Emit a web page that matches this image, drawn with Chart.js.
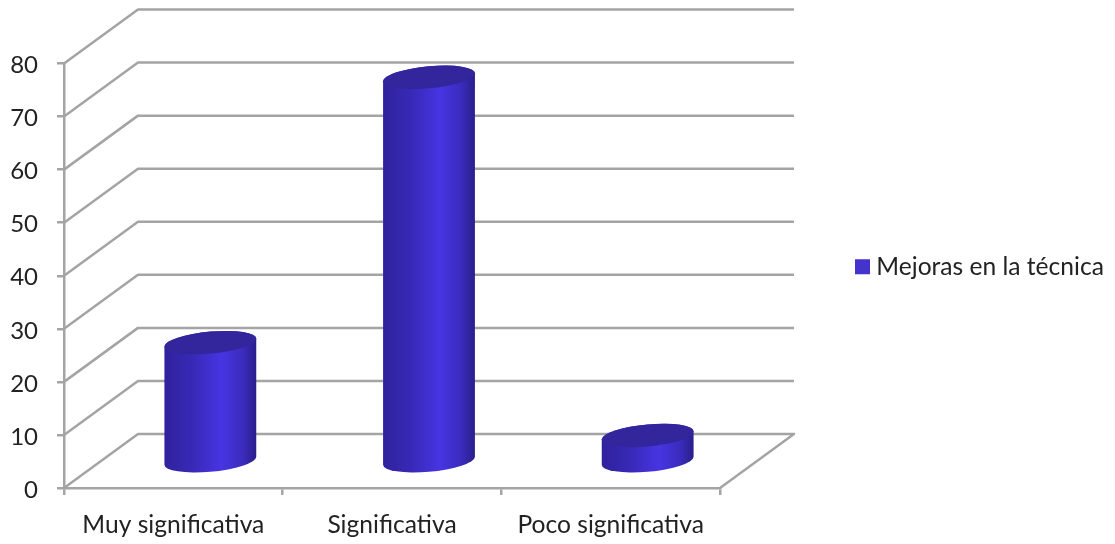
<!DOCTYPE html>
<html lang="es">
<head>
<meta charset="utf-8">
<title>Mejoras en la técnica</title>
<style>
  html, body { margin: 0; padding: 0; background: #ffffff; }
  canvas { display: block; }
</style>
<script src="https://cdn.jsdelivr.net/npm/chart.js@4/dist/chart.umd.min.js"></script>
</head>
<body>
<canvas id="chart" width="1115" height="544"></canvas>
<script>
const categories = ['Muy significativa', 'Significativa', 'Poco significativa'];
const seriesName = 'Mejoras en la técnica';
const seriesValues = [22.5, 72.5, 5];
const yTicks = { min: 0, max: 80, step: 10 };

const FONT = { family: 'Lato, Carlito, sans-serif', size: 24.6 };
const VALUE_FONT = { family: 'Lato, Carlito, sans-serif', size: 24 };
const TEXT = '#222222';
const GRID = '#a4a4a4';
const GRID_WIDTH = 2.5;
const PLOT = { left: 64, right: 720, top: 63.5, bottom: 488 };
const WALL = { dx: 74, dy: -54 };   // depth of the box behind the front plane
const BAR_DEPTH = { dx: 37, dy: -26 }; // cylinders stand halfway into the box
const ELLIPSE = { tilt: -4, minor: 11 };
const BAR_FILL = '#4433cc';
const LEGEND_SHIFT_Y = -37;

// Back wall, side wall and floor of the pseudo-3D box, placed from the y scale.
const boxPlugin = {
  id: 'box',
  beforeDatasetsDraw(chart) {
    const { ctx, chartArea: a, scales: { y } } = chart;
    ctx.save();
    ctx.strokeStyle = GRID;
    ctx.lineWidth = GRID_WIDTH;
    ctx.lineJoin = 'round';
    for (let v = yTicks.min; v <= yTicks.max; v += yTicks.step) {
      const py = y.getPixelForValue(v);
      ctx.beginPath();
      ctx.moveTo(a.left, py);
      ctx.lineTo(a.left + WALL.dx, py + WALL.dy);
      ctx.lineTo(a.right + WALL.dx, py + WALL.dy);
      if (v === yTicks.min) ctx.lineTo(a.right, py);
      ctx.stroke();
    }
    ctx.restore();
  }
};

// Replaces the flat bar with a shaded, tilted cylinder at the bar's own geometry.
const cylinderPlugin = {
  id: 'cylinder',
  beforeDatasetDraw(chart, args) {
    const { ctx } = chart;
    args.meta.data.forEach((bar) => {
      const { x, y, base, width } = bar.getProps(['x', 'y', 'base', 'width'], true);
      const cx = x + BAR_DEPTH.dx;
      const top = y + BAR_DEPTH.dy;
      const bottom = base + BAR_DEPTH.dy;
      const a = width / 2;

      const arc = (cy, from, to) => {
        ctx.save();
        ctx.transform(a, ELLIPSE.tilt, 0, ELLIPSE.minor, cx, cy);
        ctx.arc(0, 0, 1, from, to);
        ctx.restore();
      };

      const side = ctx.createLinearGradient(cx - a, 0, cx + a, 0);
      side.addColorStop(0, '#30229c');
      side.addColorStop(0.3, '#3829b6');
      side.addColorStop(0.62, '#4635e2');
      side.addColorStop(0.85, '#3b2cbe');
      side.addColorStop(1, '#2a1e8a');

      ctx.save();
      ctx.beginPath();
      arc(bottom, 0, Math.PI);
      arc(top, Math.PI, Math.PI * 2);
      ctx.closePath();
      ctx.fillStyle = side;
      ctx.fill();

      ctx.beginPath();
      arc(top, 0, Math.PI * 2);
      ctx.closePath();
      ctx.fillStyle = '#33259c';
      ctx.fill();
      ctx.restore();
    });
    return false;
  }
};

// The legend reserves the strip right of the plot; its entry starts well inside it.
const legendStripPlugin = {
  id: 'legendStrip',
  beforeLayout(chart) {
    const legend = chart.legend;
    if (!legend || legend.$stripFit) return;
    const fit = legend.fit.bind(legend);
    legend.fit = () => { fit(); legend.width = 1115 - PLOT.right; };
    legend.$stripFit = true;
  },
  afterLayout(chart) {
    chart.legend.top += LEGEND_SHIFT_Y;
    chart.legend.bottom += LEGEND_SHIFT_Y;
  }
};

new Chart(document.getElementById('chart'), {
  type: 'bar',
  plugins: [boxPlugin, cylinderPlugin, legendStripPlugin],
  data: {
    labels: categories,
    datasets: [{
      label: seriesName,
      data: seriesValues,
      backgroundColor: BAR_FILL,
      barPercentage: 0.42,
      categoryPercentage: 1
    }]
  },
  options: {
    responsive: false,
    animation: false,
    events: [],
    layout: { padding: { top: PLOT.top, bottom: 0, left: 0, right: 0 } },
    font: FONT,
    plugins: {
      title: { display: false },
      tooltip: { enabled: false },
      legend: {
        position: 'right',
        labels: {
          padding: 141,
          boxWidth: 3,
          boxHeight: 3,
          color: TEXT,
          font: FONT,
          generateLabels(chart) {
            const items = Chart.defaults.plugins.legend.labels.generateLabels(chart);
            return items.map((item) => ({ ...item, strokeStyle: BAR_FILL, lineWidth: 12 }));
          }
        }
      }
    },
    scales: {
      x: {
        type: 'category',
        afterFit(scale) { scale.height = 544 - PLOT.bottom; },
        grid: { drawOnChartArea: false, drawTicks: true, tickLength: 7, color: GRID, lineWidth: GRID_WIDTH, offset: true },
        border: { display: true, color: GRID, width: GRID_WIDTH },
        ticks: { color: TEXT, font: FONT, padding: 15, maxRotation: 0, autoSkip: false }
      },
      y: {
        type: 'linear',
        min: yTicks.min,
        max: yTicks.max,
        afterFit(scale) { scale.width = PLOT.left; },
        grid: { drawOnChartArea: false, drawTicks: true, tickLength: 7, color: GRID, lineWidth: GRID_WIDTH },
        border: { display: true, color: GRID, width: GRID_WIDTH },
        ticks: { stepSize: yTicks.step, color: TEXT, font: VALUE_FONT, padding: 19, labelOffset: 2 }
      }
    }
  }
});
</script>
</body>
</html>
